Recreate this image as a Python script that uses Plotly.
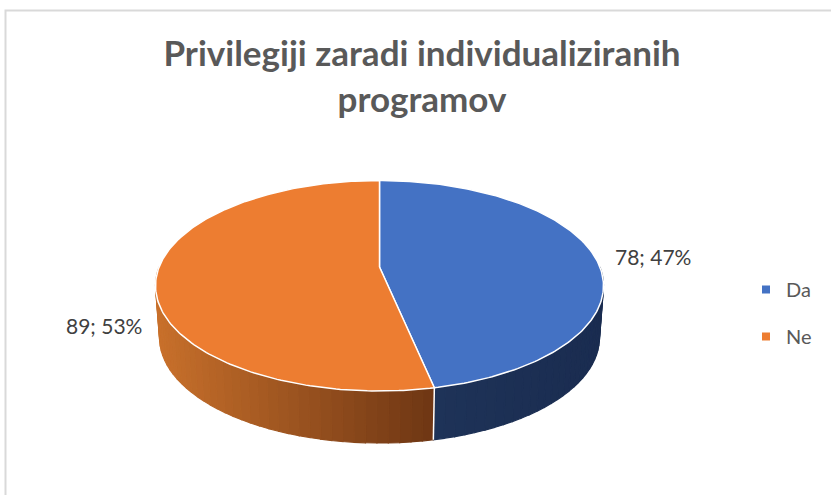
import numpy as np
import plotly.graph_objects as go

# --- data ---
categories = ["Da", "Ne"]
values = [78, 89]
title_lines = ["Privilegiji zaradi individualiziranih", "programov"]

# --- style ---
top_colors = {"Da": "#4472C4", "Ne": "#ED7D31"}
wall_left = {"Da": (30, 51, 88), "Ne": (200, 112, 43)}
wall_right = {"Da": (26, 44, 80), "Ne": (110, 54, 20)}
label_pos = {"Da": (653, 256), "Ne": (103.5, 325)}
FONT = "Lato, Carlito, Calibri, sans-serif"

# --- projection of the tilted disc onto the page (pixels) ---
CX, APEX_Y, SX, PERSP, SY = 379.5, 267.0, 220.4, 0.178, -54.4
DEPTH, BASE_SCALE = 52.0, 0.982


def project(theta, scale=1.0, dy=0.0):
    u, v = np.sin(theta), np.cos(theta)
    w = 1 + PERSP * v
    return CX + scale * SX * u / w, (SY * v + APEX_Y) / w + dy


total = sum(values)
edges = np.concatenate([[0], np.cumsum(values)]) / total * 2 * np.pi

fig = go.Figure()

# side walls
for name, a, b in zip(categories, edges[:-1], edges[1:]):
    lo, hi = max(a, np.pi / 2), min(b, 3 * np.pi / 2)
    if hi <= lo:
        continue
    steps = np.linspace(lo, hi, int((hi - lo) / np.radians(2.5)) + 2)
    xmin = project(steps, BASE_SCALE)[0].min()
    xmax = project(steps, BASE_SCALE)[0].max()
    for t0, t1 in zip(steps[:-1], steps[1:]):
        seg = np.linspace(t0, t1, 3)
        xt, yt = project(seg)
        xb, yb = project(seg[::-1], BASE_SCALE, DEPTH)
        f = (float(np.mean(xb)) - xmin) / (xmax - xmin)
        rgb = [round(l + (r - l) * f) for l, r in zip(wall_left[name], wall_right[name])]
        col = f"rgb({rgb[0]},{rgb[1]},{rgb[2]})"
        fig.add_trace(go.Scatter(
            x=np.r_[xt, xb, xt[0]], y=np.r_[yt, yb, yt[0]], mode="lines",
            fill="toself", fillcolor=col, line=dict(color=col, width=1.2),
            hoverinfo="skip", showlegend=False))

# white seam on the wall where the slices meet at the front
for e in edges:
    if np.pi / 2 < e < 3 * np.pi / 2:
        x0, y0 = project(e)
        x1, y1 = project(e, BASE_SCALE, DEPTH)
        fig.add_trace(go.Scatter(x=[x0, x1], y=[y0, y1], mode="lines",
                                 line=dict(color="white", width=1.5),
                                 hoverinfo="skip", showlegend=False))

# top faces
for name, a, b in zip(categories, edges[:-1], edges[1:]):
    th = np.linspace(a, b, 200)
    x, y = project(th)
    fig.add_trace(go.Scatter(
        x=np.r_[CX, x, CX], y=np.r_[APEX_Y, y, APEX_Y], mode="lines",
        fill="toself", fillcolor=top_colors[name],
        line=dict(color="white", width=1.5), hoverinfo="skip", showlegend=False))

# legend entries
for i, name in enumerate(categories):
    fig.add_trace(go.Scatter(
        x=[None], y=[None], mode="markers", name=name, legendgroup=name,
        marker=dict(symbol="square", size=8, color=top_colors[name])))

# data labels
annotations = []
for name, v in zip(categories, values):
    lx, ly = label_pos[name]
    annotations.append(dict(x=lx, y=ly, xref="x", yref="y", showarrow=False,
                            text=f"{v}; {round(v / total * 100)}%",
                            font=dict(family=FONT, size=21, color="#404040")))

fig.update_layout(
    width=831, height=495, margin=dict(l=0, r=0, t=0, b=0),
    paper_bgcolor="white", plot_bgcolor="white",
    xaxis=dict(range=[0, 831], visible=False, fixedrange=True),
    yaxis=dict(range=[495, 0], visible=False, fixedrange=True),
    title=dict(text="<br>".join(title_lines), x=422 / 831, xanchor="center",
               y=1 - 66 / 495, yanchor="middle",
               font=dict(family=FONT, size=35, color="#595959", weight="bold")),
    legend=dict(x=746 / 831, xanchor="left", y=1 - 313 / 495, yanchor="middle",
                font=dict(family=FONT, size=20, color="#595959"),
                bgcolor="rgba(0,0,0,0)", tracegroupgap=18, itemwidth=30),
    annotations=annotations,
    shapes=[dict(type="rect", xref="x", yref="y", x0=5.5, y0=10.5, x1=900, y1=600,
                 line=dict(color="#D9D9D9", width=2), layer="below")],
)

fig.write_html("out.html", config={"displayModeBar": False},
               post_script="document.body.style.margin='0';")
